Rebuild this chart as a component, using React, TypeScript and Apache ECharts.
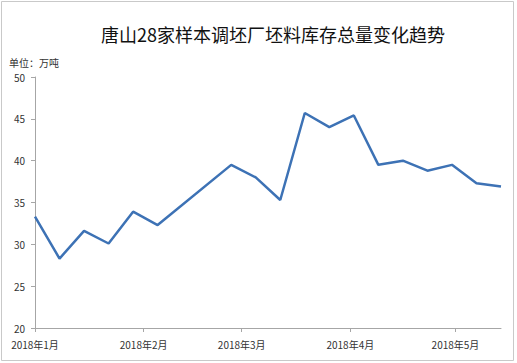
import React, { useEffect, useRef } from "react";
import * as echarts from "echarts";

// Weekly inventory readings (Mondays), 2018
const dates: string[] = [
  "2018-01-01", "2018-01-08", "2018-01-15", "2018-01-22", "2018-01-29",
  "2018-02-05", "2018-02-26", "2018-03-05", "2018-03-12", "2018-03-19",
  "2018-03-26", "2018-04-02", "2018-04-09", "2018-04-16", "2018-04-23",
  "2018-04-30", "2018-05-07", "2018-05-14",
];
const inventory: number[] = [
  33.3, 28.3, 31.6, 30.1, 33.9, 32.3, 39.5, 38.0, 35.3, 45.7,
  44.0, 45.4, 39.5, 40.0, 38.8, 39.5, 37.3, 36.9,
];
// Month boundaries used for the x-axis ticks and labels
const monthTicks: string[] = [
  "2018-01-01", "2018-02-01", "2018-03-01", "2018-04-01", "2018-05-01",
];
const yTicks: number[] = [20, 25, 30, 35, 40, 45, 50];

const toTs = (s: string) => {
  const [y, m, d] = s.split("-").map(Number);
  return Date.UTC(y, m - 1, d);
};

export default function App() {
  const ref = useRef<HTMLDivElement>(null);

  useEffect(() => {
    if (!ref.current) return;
    const chart = echarts.init(ref.current, undefined, { renderer: "svg" });
    const tickTs = monthTicks.map(toTs);
    const font = "'Noto Sans CJK SC', 'Noto Sans', sans-serif";
    const axisColor = "#a6a6a6";

    chart.setOption({
      animation: false,
      backgroundColor: "#ffffff",
      textStyle: { fontFamily: font },
      title: {
        text: "唐山28家样本调坯厂坯料库存总量变化趋势",
        left: 96,
        top: 20,
        textStyle: {
          fontFamily: font,
          fontSize: 18,
          fontWeight: "normal",
          color: "#111111",
        },
      },
      graphic: [
        {
          type: "rect",
          shape: { x: 1.5, y: 1.5, width: 512, height: 359 },
          style: { fill: "none", stroke: "#c9c9c9", lineWidth: 1 },
          silent: true,
        },
        {
          type: "text",
          left: 9,
          top: 57,
          style: {
            text: "单位：万吨",
            font: `10px ${font}`,
            fill: "#333333",
          },
        },
      ],
      grid: { left: 35, right: 16, top: 77, bottom: 35, containLabel: false },
      xAxis: {
        type: "value",
        min: toTs(dates[0]),
        max: toTs(dates[dates.length - 1]),
        splitLine: { show: false },
        axisLine: { show: true, lineStyle: { color: axisColor, width: 1 } },
        axisTick: {
          show: true,
          length: 4,
          customValues: tickTs,
          lineStyle: { color: axisColor },
        },
        axisLabel: {
          customValues: tickTs,
          fontFamily: font,
          fontSize: 10,
          color: "#333333",
          margin: 11,
          formatter: (v: number) => {
            const d = new Date(v);
            return `${d.getUTCFullYear()}年${d.getUTCMonth() + 1}月`;
          },
        },
      },
      yAxis: {
        type: "value",
        min: yTicks[0],
        max: yTicks[yTicks.length - 1],
        interval: 5,
        splitLine: { show: false },
        axisLine: { show: true, lineStyle: { color: axisColor, width: 1 } },
        axisTick: {
          show: true,
          length: 4,
          inside: false,
          lineStyle: { color: axisColor },
        },
        axisLabel: {
          fontFamily: font,
          fontSize: 10,
          color: "#333333",
          margin: 10,
        },
      },
      series: [
        {
          type: "line",
          data: dates.map((d, i) => [toTs(d), inventory[i]]),
          showSymbol: false,
          symbol: "none",
          lineStyle: { color: "#3D72B5", width: 2.5 },
          itemStyle: { color: "#3D72B5" },
        },
      ],
    });

    return () => chart.dispose();
  }, []);

  return (
    <div
      ref={ref}
      style={{
        position: "fixed",
        left: 0,
        top: 0,
        width: 517,
        height: 363,
      }}
    />
  );
}
